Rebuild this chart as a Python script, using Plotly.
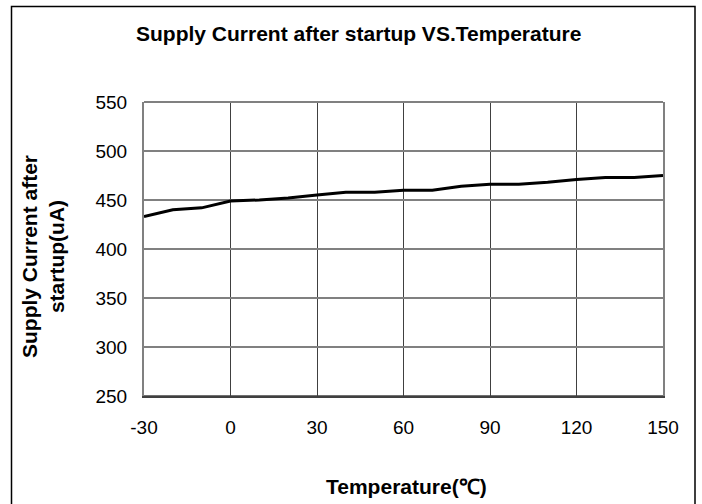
import plotly.graph_objects as go

# Data
temperature_c = [-30, -20, -10, 0, 10, 20, 30, 40, 50, 60, 70, 80, 90, 100, 110, 120, 130, 140, 150]
supply_current_ua = [433, 440, 442, 449, 450, 452, 455, 458, 458, 460, 460, 464, 466, 466, 468, 471, 473, 473, 475]
x_ticks = [-30, 0, 30, 60, 90, 120, 150]
y_ticks = [250, 300, 350, 400, 450, 500, 550]

W, H = 702, 504
# plot area pixel bounds in page coordinates
L, R, T, B = 144, 663, 102, 396


def px(x):
    return (x - L) / (R - L)


def py(y):
    return (B - y) / (B - T)


FONT = "Liberation Sans, Arial, sans-serif"

fig = go.Figure()
fig.add_trace(go.Scatter(
    x=temperature_c, y=supply_current_ua, mode="lines",
    line=dict(color="black", width=3), showlegend=False, hoverinfo="skip",
))

fig.update_layout(
    width=W, height=H,
    margin=dict(l=L, r=W - R, t=T, b=H - B),
    paper_bgcolor="white", plot_bgcolor="white",
    font=dict(family=FONT, color="black", size=19),
    xaxis=dict(
        range=[-30, 150], tickvals=x_ticks, ticktext=[str(v) for v in x_ticks],
        showgrid=True, gridcolor="#404040", gridwidth=1,
        showline=True, linecolor="#404040", linewidth=1.5, mirror=False,
        zeroline=False, ticks="", ticklabelstandoff=13,
        tickfont=dict(family=FONT, size=19, color="black"),
    ),
    yaxis=dict(
        range=[250, 550], tickvals=y_ticks, ticktext=[str(v) for v in y_ticks],
        showgrid=True, gridcolor="#808080", gridwidth=1.5,
        showline=True, linecolor="#808080", linewidth=2, mirror=True,
        zeroline=False, ticks="", ticklabelstandoff=11,
        tickfont=dict(family=FONT, size=19, color="black"),
    ),
    shapes=[
        dict(type="line", xref="paper", yref="paper", x0=0, x1=1, y0=1, y1=1,
             line=dict(color="#808080", width=2)),
        dict(type="line", xref="paper", yref="paper", x0=0, x1=1, y0=0, y1=0,
             line=dict(color="#404040", width=1.5)),
        dict(type="rect", xref="paper", yref="paper",
             x0=px(11.5), x1=px(695), y0=py(512), y1=py(6.5),
             line=dict(color="black", width=1.5), fillcolor="rgba(0,0,0,0)", layer="above"),
    ],
    annotations=[
        dict(text="<b>Supply Current after startup VS.Temperature</b>",
             xref="paper", yref="paper", x=px(358), y=py(34),
             xanchor="center", yanchor="middle", showarrow=False,
             font=dict(family=FONT, size=21, color="black")),
        dict(text="<b>Supply Current after<br>startup(uA)</b>",
             xref="paper", yref="paper", x=px(43), y=py(257),
             xanchor="center", yanchor="middle", showarrow=False, textangle=-90,
             font=dict(family=FONT, size=21, color="black")),
        dict(text="<b>Temperature(℃)</b>",
             xref="paper", yref="paper", x=px(406), y=py(486),
             xanchor="center", yanchor="middle", showarrow=False,
             font=dict(family=FONT, size=21, color="black")),
    ],
)

fig.write_html(
    "out.html",
    config={"displayModeBar": False},
    post_script="document.body.style.margin='0';document.body.style.overflow='hidden';",
)
